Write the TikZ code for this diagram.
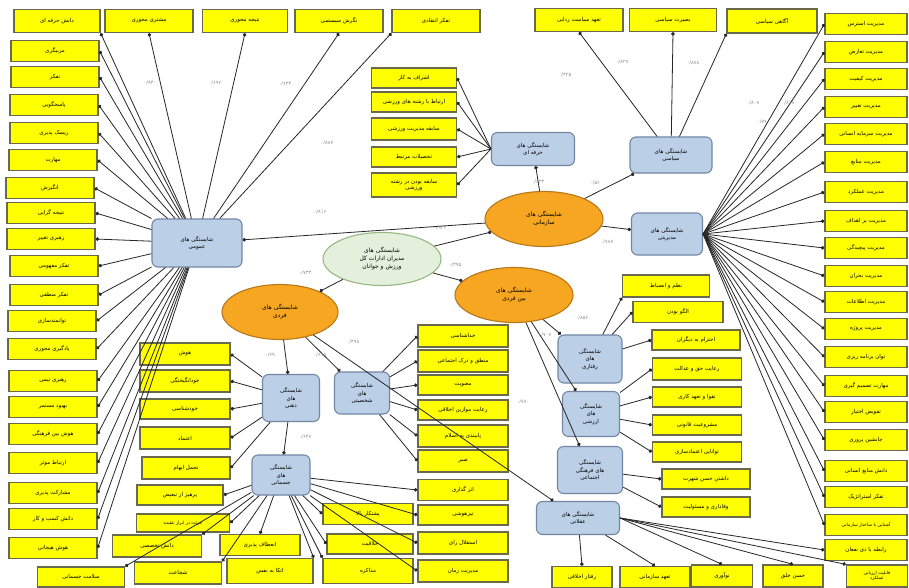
\documentclass[tikz,border=0pt]{standalone}
\usepackage{fontspec}
\newfontfamily\farsi[Script=Arabic]{DejaVu Sans}
\TeXXeTstate=1
\usetikzlibrary{shapes.geometric,arrows.meta}
\definecolor{ylw}{RGB}{255,255,0}
\definecolor{yedge}{RGB}{105,105,75}
\definecolor{lblue}{RGB}{187,207,230}
\definecolor{bedge}{RGB}{115,135,165}
\definecolor{ornge}{RGB}{246,166,32}
\definecolor{oedge}{RGB}{185,120,25}
\definecolor{lgreen}{RGB}{228,240,220}
\definecolor{gedge}{RGB}{150,185,130}
\def\fa#1{\beginR #1\endR}

\tikzset{
  yb/.style={draw=yedge, line width=1.3pt, fill=ylw, minimum width=88pt, minimum height=21pt, inner sep=1pt, align=center, font=\farsi\fontsize{5.5}{6.5}\selectfont},
  bb/.style={draw=bedge, line width=1.1pt, fill=lblue, rounded corners=6pt, inner sep=1pt, align=center, font=\farsi\fontsize{5.5}{7.5}\selectfont},
  oe/.style={ellipse, draw=oedge, line width=1.1pt, fill=ornge, inner sep=0pt, minimum width=118pt, minimum height=55pt, align=center, font=\farsi\fontsize{6}{8}\selectfont},
  ge/.style={ellipse, draw=gedge, line width=1.1pt, fill=lgreen, inner sep=0pt, minimum width=118pt, minimum height=53pt, align=center, font=\farsi\fontsize{6}{8}\selectfont},
  lk/.style={-{Circle[length=3.5pt]}, line width=0.8pt, draw=black!85},
  wt/.style={inner sep=0pt, text=black!45, font=\farsi\fontsize{5}{6}\selectfont}
}

\begin{document}
\begin{tikzpicture}[x=1pt,y=-1pt]
			%%%%% START %%%%%
			\fill[white] (0,0) rectangle (909,587);
			\useasboundingbox (0,0) rectangle (909,587);
			
			% centre and main groups
			\node[ge] (root) at (382,259) {\fa{شایستگی های}\\\fa{مدیران ادارات کل}\\\fa{ورزش و جوانان}};
			\node[oe] (org) at (544,219) {\fa{شایستگی های}\\\fa{سازمانی}};
			\node[oe] (inter) at (514,295) {\fa{شایستگی های}\\\fa{بین فردی}};
			\node[oe, minimum width=116pt] (indiv) at (280,312) {\fa{شایستگی های}\\\fa{فردی}};
			
			% blue boxes
			\node[bb, minimum width=90pt, minimum height=48pt] (gen) at (197,243) {\fa{شایستگی های}\\\fa{عمومی}};
			\node[bb, minimum width=83pt, minimum height=33pt] (prof) at (533,149) {\fa{شایستگی های}\\\fa{حرفه ای}};
			\node[bb, minimum width=82pt, minimum height=36pt] (pol) at (671,155) {\fa{شایستگی های}\\\fa{سیاسی}};
			\node[bb, minimum width=71pt, minimum height=42pt] (mgr) at (667,234) {\fa{شایستگی های}\\\fa{مدیریتی}};
			\node[bb, minimum width=64pt, minimum height=48pt] (beh) at (590,359) {\fa{شایستگی}\\\fa{های}\\\fa{رفتاری}};
			\node[bb, minimum width=57pt, minimum height=45pt] (val) at (591,414) {\fa{شایستگی}\\\fa{های}\\\fa{ارزشی}};
			\node[bb, minimum width=65pt, minimum height=47pt] (cul) at (590,470) {\fa{شایستگی}\\\fa{های فرهنگی}\\\fa{اجتماعی}};
			\node[bb, minimum width=83pt, minimum height=33pt] (rat) at (578,518) {\fa{شایستگی های}\\\fa{عقلانی}};
			\node[bb, minimum width=57pt, minimum height=47pt] (mnd) at (291,398) {\fa{شایستگی}\\\fa{های}\\\fa{ذهنی}};
			\node[bb, minimum width=55pt, minimum height=42pt] (per) at (362,393) {\fa{شایستگی}\\\fa{های}\\\fa{شخصیتی}};
			\node[bb, minimum width=58pt, minimum height=40pt] (phy) at (281,475) {\fa{شایستگی}\\\fa{های}\\\fa{جسمانی}};
			
			% top row and left column
			\node[yb, minimum width=86pt, minimum height=23pt] (L1) at (57,21) {\fa{دانش حرفه ای}};
			\node[yb, minimum height=23pt] (T2) at (149,21) {\fa{مشتری محوری}};
			\node[yb, minimum width=85pt, minimum height=23pt] (T3) at (245,21) {\fa{نتیجه محوری}};
			\node[yb, minimum height=23pt] (T4) at (339,21) {\fa{نگرش سیستمی}};
			\node[yb, minimum height=23pt] (T5) at (436,21) {\fa{تفکر انتقادی}};
			\node[yb] (L2) at (55,51) {\fa{مربیگری}};
			\node[yb] (L3) at (55,77) {\fa{تفکر}};
			\node[yb] (L4) at (54,105) {\fa{پاسخگویی}};
			\node[yb] (L5) at (54,133) {\fa{ریسک پذیری}};
			\node[yb] (L6) at (53,160) {\fa{مهارت}};
			\node[yb] (L7) at (50,188) {\fa{انگیزش}};
			\node[yb] (L8) at (51,213) {\fa{نتیجه گرایی}};
			\node[yb] (L9) at (51,239) {\fa{رهبری تغییر}};
			\node[yb] (L10) at (54,266) {\fa{تفکر مفهومی}};
			\node[yb] (L11) at (54,295) {\fa{تفکر منطقی}};
			\node[yb] (L12) at (52,321) {\fa{توانمندسازی}};
			\node[yb] (L13) at (52,349) {\fa{یادگیری محوری}};
			\node[yb] (L14) at (53,381) {\fa{رهبری تیمی}};
			\node[yb] (L15) at (53,407) {\fa{بهبود مستمر}};
			\node[yb] (L16) at (53,434) {\fa{هوش بین فرهنگی}};
			\node[yb] (L17) at (53,463) {\fa{ارتباط موثر}};
			\node[yb] (L18) at (53,493) {\fa{مشارکت پذیری}};
			\node[yb] (L19) at (53,519) {\fa{دانش کسب و کار}};
			\node[yb] (L20) at (53,548) {\fa{هوش هیجانی}};
			
			% political and professional boxes
			\node[yb, minimum height=23pt] (P1) at (579,20) {\fa{تعهد سیاست زدایی}};
			\node[yb, minimum width=87pt, minimum height=23pt] (P2) at (673,20) {\fa{بصیرت سیاسی}};
			\node[yb, minimum width=90pt, minimum height=24pt] (P3) at (772,21) {\fa{آگاهی سیاسی}};
			\node[yb, minimum width=85pt, minimum height=20pt] (H1) at (414,78) {\fa{اشراف به کار}};
			\node[yb, minimum width=85pt, minimum height=20pt] (H2) at (414,102) {\fa{ارتباط با رشته های ورزشی}};
			\node[yb, minimum width=85pt, minimum height=22pt] (H3) at (414,129) {\fa{سابقه مدیریت ورزشی}};
			\node[yb, minimum width=85pt, minimum height=20pt] (H4) at (414,157) {\fa{تحصیلات مرتبط}};
			\node[yb, minimum width=85pt, minimum height=24pt] (H5) at (414,185) {\fa{سابقه بودن در رشته}\\\fa{ورزشی}};
			
			% right column
			\node[yb, minimum width=82pt] (R1) at (866,24) {\fa{مدیریت استرس}};
			\node[yb, minimum width=82pt] (R2) at (866,52) {\fa{مدیریت تعارض}};
			\node[yb, minimum width=82pt] (R3) at (866,79) {\fa{مدیریت کیفیت}};
			\node[yb, minimum width=82pt] (R4) at (866,107) {\fa{مدیریت تغییر}};
			\node[yb, minimum width=82pt] (R5) at (866,134) {\fa{مدیریت سرمایه انسانی}};
			\node[yb, minimum width=82pt] (R6) at (866,162) {\fa{مدیریت منابع}};
			\node[yb, minimum width=82pt] (R7) at (866,192) {\fa{مدیریت عملکرد}};
			\node[yb, minimum width=82pt] (R8) at (866,221) {\fa{مدیریت بر اهداف}};
			\node[yb, minimum width=82pt] (R9) at (866,248) {\fa{مدیریت پیچیدگی}};
			\node[yb, minimum width=82pt] (R10) at (866,276) {\fa{مدیریت بحران}};
			\node[yb, minimum width=82pt] (R11) at (866,302) {\fa{مدیریت اطلاعات}};
			\node[yb, minimum width=82pt] (R12) at (866,329) {\fa{مدیریت پروژه}};
			\node[yb, minimum width=82pt] (R13) at (866,357) {\fa{توان برنامه ریزی}};
			\node[yb, minimum width=82pt] (R14) at (866,386) {\fa{مهارت تصمیم گیری}};
			\node[yb, minimum width=82pt] (R15) at (866,412) {\fa{تفویض اختیار}};
			\node[yb, minimum width=82pt] (R16) at (866,440) {\fa{جانشین پروری}};
			\node[yb, minimum width=82pt] (R17) at (866,471) {\fa{دانش منابع انسانی}};
			\node[yb, minimum width=82pt] (R18) at (866,497) {\fa{تفکر استراتژیک}};
			\node[yb, minimum width=82pt, font=\farsi\fontsize{4.5}{5.5}\selectfont] (R19) at (866,525) {\fa{آشنایی با ساختار سازمانی}};
			\node[yb, minimum width=82pt] (R20) at (866,550) {\fa{رابطه با ذی نفعان}};
			
			% behavioural, value and cultural boxes
			\node[yb, minimum width=87pt, minimum height=22pt] (B1) at (666,286) {\fa{نظم و انضباط}};
			\node[yb, minimum width=90pt] (B2) at (678,312) {\fa{الگو بودن}};
			\node[yb, minimum height=20pt] (B3) at (696,340) {\fa{احترام به دیگران}};
			\node[yb, minimum width=89pt, minimum height=22pt] (V1) at (697,369) {\fa{رعایت حق و عدالت}};
			\node[yb, minimum width=89pt, minimum height=20pt] (V2) at (697,397) {\fa{تقوا و تعهد کاری}};
			\node[yb, minimum width=89pt, minimum height=20pt] (V3) at (697,425) {\fa{مشروعیت قانونی}};
			\node[yb, minimum width=89pt, minimum height=20pt] (V4) at (697,452) {\fa{توانایی اعتمادسازی}};
			\node[yb, minimum height=20pt] (C1) at (706,479) {\fa{داشتن حسن شهرت}};
			\node[yb, minimum height=20pt] (C2) at (706,507) {\fa{وفاداری و مسئولیت}};
			
			% bottom row
			\node[yb, minimum width=60pt] (G1) at (582,577) {\fa{رفتار اخلاقی}};
			\node[yb, minimum width=70pt] (G2) at (655,577) {\fa{تعهد سازمانی}};
			\node[yb, minimum width=61pt, minimum height=22pt] (G3) at (722,576) {\fa{نوآوری}};
			\node[yb, minimum width=60pt, minimum height=22pt] (G4) at (793,576) {\fa{حسن خلق}};
			\node[yb, minimum width=61pt, minimum height=22pt, font=\farsi\fontsize{4.5}{5.5}\selectfont] (G5) at (877,576) {\fa{قابلیت ارزیابی}\\\fa{عملکرد}};
			
			% individual boxes
			\node[yb, minimum width=90pt, minimum height=22pt] (A1) at (185,354) {\fa{هوش}};
			\node[yb, minimum width=90pt, minimum height=22pt] (A2) at (185,381) {\fa{خودانگیختگی}};
			\node[yb, minimum width=90pt, minimum height=20pt] (A3) at (185,409) {\fa{خودشناسی}};
			\node[yb, minimum width=90pt, minimum height=22pt] (A4) at (185,438) {\fa{اعتماد}};
			\node[yb, minimum width=88pt, minimum height=22pt] (A5) at (186,468) {\fa{تحمل ابهام}};
			\node[yb, minimum width=86pt, minimum height=20pt] (A6) at (180,495) {\fa{پرهیز از تبعیض}};
			\node[yb, minimum width=93pt, minimum height=18pt, font=\farsi\fontsize{4.5}{5.5}\selectfont] (A7) at (183,523) {\fa{جرئت در ابراز عقیده}};
			\node[yb, minimum width=89pt, minimum height=22pt] (D1) at (157,546) {\fa{دانش تخصصی}};
			\node[yb, minimum width=87pt, minimum height=22pt] (D2) at (178,573) {\fa{شجاعت}};
			\node[yb, minimum width=87pt, minimum height=20pt] (D3) at (81,577) {\fa{سلامت جسمانی}};
			\node[yb, minimum width=80pt] (D4) at (260,545) {\fa{انعطاف پذیری}};
			\node[yb, minimum width=86pt, minimum height=25pt] (D5) at (270,571) {\fa{اتکا به نفس}};
			\node[yb, minimum width=90pt] (E1) at (368,514) {\fa{پشتکار بالا}};
			\node[yb, minimum width=86pt, minimum height=20pt] (E2) at (370,544) {\fa{خلاقیت}};
			\node[yb, minimum width=90pt, minimum height=25pt] (E3) at (368,571) {\fa{مذاکره}};
			\node[yb, minimum width=90pt, minimum height=22pt] (F1) at (463,336) {\fa{خداشناسی}};
			\node[yb, minimum width=90pt, minimum height=22pt] (F2) at (463,361) {\fa{منطق و درک اجتماعی}};
			\node[yb, minimum width=90pt, minimum height=20pt] (F3) at (463,385) {\fa{معنویت}};
			\node[yb, minimum width=90pt, minimum height=20pt] (F4) at (463,410) {\fa{رعایت موازین اخلاقی}};
			\node[yb, minimum width=90pt, minimum height=22pt] (F5) at (463,436) {\fa{پایبندی به اسلام}};
			\node[yb, minimum width=90pt, minimum height=22pt] (F6) at (463,461) {\fa{صبر}};
			\node[yb, minimum width=90pt] (F7) at (463,490) {\fa{اثر گذاری}};
			\node[yb, minimum width=90pt, minimum height=20pt] (F8) at (463,515) {\fa{تیزهوشی}};
			\node[yb, minimum width=90pt, minimum height=22pt] (F9) at (463,543) {\fa{استقلال رای}};
			\node[yb, minimum width=90pt, minimum height=22pt] (F10) at (463,571) {\fa{مدیریت زمان}};
			
			% main links
			\draw[lk] (root) -- (org);
			\draw[lk] (root) -- (inter);
			\draw[lk] (root) -- (indiv);
			\draw[lk] (org) -- (gen);
			\draw[lk] (org) -- (prof);
			\draw[lk] (org) -- (pol);
			\draw[lk] (org) -- (mgr);
			\draw[lk] (inter) -- (beh);
			\draw[lk] (inter) -- (val);
			\draw[lk] (inter) -- (cul);
			\draw[lk] (indiv) -- (mnd);
			\draw[lk] (indiv) -- (per);
			\draw[lk] (indiv) -- (rat);
			\draw[lk] (mnd) -- (phy);
			
			% general links
			\draw[lk] (gen) -- (L1.south east);
			\draw[lk] (gen) -- (T2.south);
			\draw[lk] (gen) -- (T3.south);
			\draw[lk] (gen) -- (T4.south);
			\draw[lk] (gen) -- (T5.south west);
			\draw[lk] (gen) -- (L2.east);
			\draw[lk] (gen) -- (L3.east);
			\draw[lk] (gen) -- (L4.east);
			\draw[lk] (gen) -- (L5.east);
			\draw[lk] (gen) -- (L6.east);
			\draw[lk] (gen) -- (L7.east);
			\draw[lk] (gen) -- (L8.east);
			\draw[lk] (gen) -- (L9.east);
			\draw[lk] (gen) -- (L10.east);
			\draw[lk] (gen) -- (L11.east);
			\draw[lk] (gen) -- (L12.east);
			\draw[lk] (gen) -- (L13.east);
			\draw[lk] (gen) -- (L14.east);
			\draw[lk] (gen) -- (L15.east);
			\draw[lk] (gen) -- (L16.east);
			\draw[lk] (gen) -- (L17.east);
			\draw[lk] (gen) -- (L18.east);
			\draw[lk] (gen) -- (L19.east);
			\draw[lk] (gen) -- (L20.east);
			
			\draw[lk] (pol) -- (P1.south);
			\draw[lk] (pol) -- (P2.south);
			\draw[lk] (pol) -- (P3.south west);
			\draw[lk] (prof.west) -- (H1.east);
			\draw[lk] (prof.west) -- (H2.east);
			\draw[lk] (prof.west) -- (H3.east);
			\draw[lk] (prof.west) -- (H4.east);
			\draw[lk] (prof.west) -- (H5.east);
			
			% managerial links
			\draw[lk] (mgr.east) -- (R1.west);
			\draw[lk] (mgr.east) -- (R2.west);
			\draw[lk] (mgr.east) -- (R3.west);
			\draw[lk] (mgr.east) -- (R4.west);
			\draw[lk] (mgr.east) -- (R5.west);
			\draw[lk] (mgr.east) -- (R6.west);
			\draw[lk] (mgr.east) -- (R7.west);
			\draw[lk] (mgr.east) -- (R8.west);
			\draw[lk] (mgr.east) -- (R9.west);
			\draw[lk] (mgr.east) -- (R10.west);
			\draw[lk] (mgr.east) -- (R11.west);
			\draw[lk] (mgr.east) -- (R12.west);
			\draw[lk] (mgr.east) -- (R13.west);
			\draw[lk] (mgr.east) -- (R14.west);
			\draw[lk] (mgr.east) -- (R15.west);
			\draw[lk] (mgr.east) -- (R16.west);
			\draw[lk] (mgr.east) -- (R17.west);
			\draw[lk] (mgr.east) -- (R18.west);
			\draw[lk] (mgr.east) -- (R19.west);
			
			\draw[lk] (beh) -- (B1.south west);
			\draw[lk] (beh) -- (B2.west);
			\draw[lk] (beh) -- (B3.west);
			\draw[lk] (val) -- (V1.west);
			\draw[lk] (val) -- (V2.west);
			\draw[lk] (val) -- (V3.west);
			\draw[lk] (val) -- (V4.west);
			\draw[lk] (cul) -- (C1.west);
			\draw[lk] (cul) -- (C2.west);
			
			\draw[lk] (rat.east) -- (R20.west);
			\draw[lk] (rat) -- (G1.north);
			\draw[lk] (rat) -- (G2.north);
			\draw[lk] (rat.east) -- (G3.north);
			\draw[lk] (rat.east) -- (G4.north);
			\draw[lk] (rat.east) -- (G5.north west);
			
			% individual links
			\draw[lk] (mnd) -- (A1.east);
			\draw[lk] (mnd) -- (A2.east);
			\draw[lk] (mnd) -- (A3.east);
			\draw[lk] (mnd) -- (A4.east);
			\draw[lk] (mnd) -- (A5.east);
			\draw[lk] (per) -- (F1.west);
			\draw[lk] (per) -- (F2.west);
			\draw[lk] (per) -- (F3.west);
			\draw[lk] (per) -- (F4.west);
			\draw[lk] (per) -- (F5.west);
			\draw[lk] (per) -- (F6.west);
			\draw[lk] (phy) -- (A6.east);
			\draw[lk] (phy) -- (A7.east);
			\draw[lk] (phy) -- (D1.north east);
			\draw[lk] (phy) -- (D2.north east);
			\draw[lk] (phy) -- (D3.north east);
			\draw[lk] (phy) -- (D4.north);
			\draw[lk] (phy) -- (D5.north east);
			\draw[lk] (phy) -- (E1.west);
			\draw[lk] (phy) -- (E2.west);
			\draw[lk] (phy) -- (E3.north west);
			\draw[lk] (phy) -- (F7.west);
			\draw[lk] (phy) -- (F8.west);
			\draw[lk] (phy) -- (F9.west);
			\draw[lk] (phy) -- (F10.west);
			
			% loadings
			\node[wt] (w1) at (440,228) {۰/۹۲۲};
			\node[wt] (w2) at (455,265) {۰/۳۹۵};
			\node[wt] (w3) at (305,273) {۰/۷۳۳};
			\node[wt] (w4) at (320,212) {۰/۸۱۶};
			\node[wt] (w5) at (538,182) {۰/۸۳۳};
			\node[wt] (w6) at (595,183) {۰/۵۶};
			\node[wt] (w7) at (607,242) {۰/۷۸۷};
			\node[wt] (w8) at (582,318) {۰/۸۵۶};
			\node[wt] (w9) at (545,335) {۰/۷۰۷};
			\node[wt] (w10) at (523,402) {۰/۷۷۰};
			\node[wt] (w11) at (353,342) {۰/۴۹۸};
			\node[wt] (w12) at (270,355) {۰/۶۹};
			\node[wt] (w13) at (320,355) {۰/۶۹۵};
			\node[wt] (w14) at (305,437) {۰/۶۴۷};
			\node[wt] (w15) at (150,83) {۰/۹۴۰};
			\node[wt] (w16) at (215,83) {۰/۶۹۶};
			\node[wt] (w17) at (285,84) {۰/۶۳۳};
			\node[wt] (w18) at (327,143) {۰/۸۸۷};
			\node[wt] (w19) at (565,75) {۰/۴۲۵};
			\node[wt] (w20) at (622,62) {۰/۸۲۷};
			\node[wt] (w21) at (693,63) {۰/۸۸۸};
			\node[wt] (w22) at (753,103) {۰/۸۰۸};
			\node[wt] (w23) at (788,103) {۰/۸۱۸};
			\node[wt] (w24) at (762,122) {۰/۷۹};
			%%%%% END %%%%%
\end{tikzpicture}
\end{document}
